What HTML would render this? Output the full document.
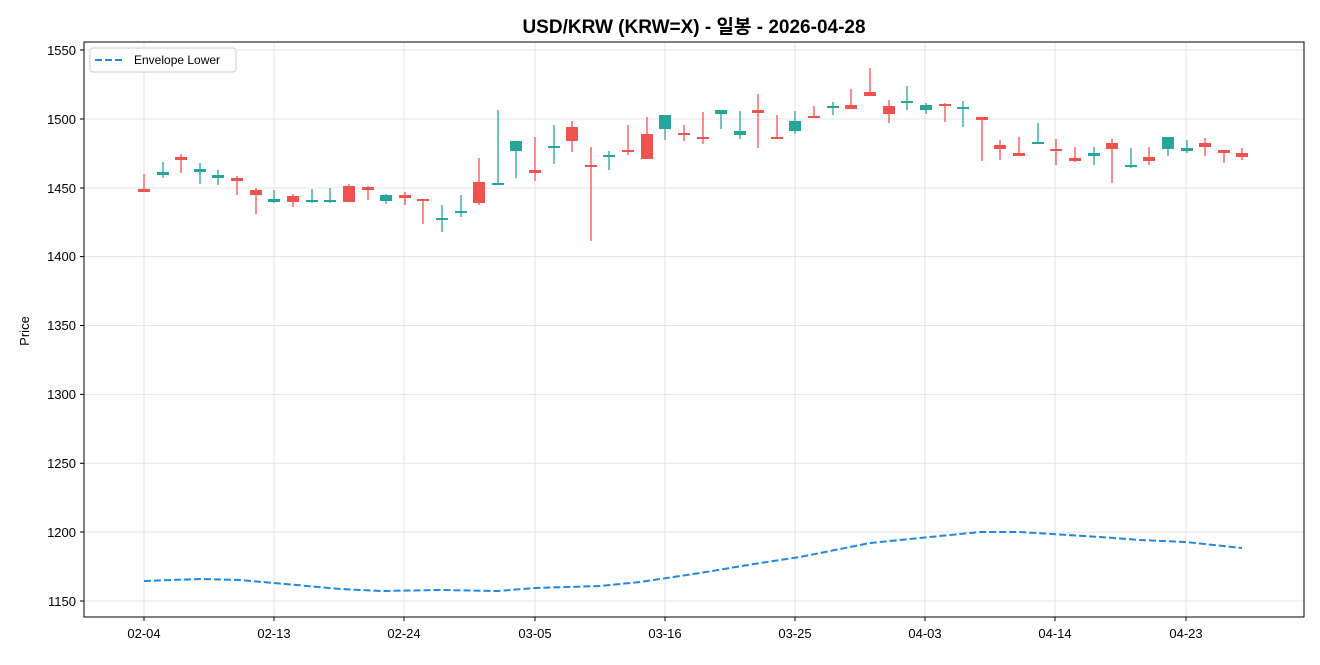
<!DOCTYPE html>
<html><head><meta charset="utf-8"><style>
html,body{margin:0;padding:0;background:#fff;}
svg text{font-family:"Liberation Sans","Noto Sans CJK KR",sans-serif;}
</style></head><body>
<svg width="1320" height="660" xmlns="http://www.w3.org/2000/svg">
<rect width="1320" height="660" fill="#fff"/>
<text x="694" y="33" text-anchor="middle" font-size="19" font-weight="bold" fill="#000">USD/KRW (KRW=X) - 일봉 - 2026-04-28</text>
<g stroke="#e5e5e5" stroke-width="1">
<line x1="144" y1="42" x2="144" y2="617"/><line x1="274" y1="42" x2="274" y2="617"/><line x1="404" y1="42" x2="404" y2="617"/><line x1="535" y1="42" x2="535" y2="617"/><line x1="665" y1="42" x2="665" y2="617"/><line x1="795" y1="42" x2="795" y2="617"/><line x1="925" y1="42" x2="925" y2="617"/><line x1="1055" y1="42" x2="1055" y2="617"/><line x1="1186" y1="42" x2="1186" y2="617"/>
<line x1="84" y1="50" x2="1304" y2="50"/><line x1="84" y1="119" x2="1304" y2="119"/><line x1="84" y1="188" x2="1304" y2="188"/><line x1="84" y1="256.6" x2="1304" y2="256.6"/><line x1="84" y1="325.5" x2="1304" y2="325.5"/><line x1="84" y1="394.4" x2="1304" y2="394.4"/><line x1="84" y1="463.3" x2="1304" y2="463.3"/><line x1="84" y1="532" x2="1304" y2="532"/><line x1="84" y1="601" x2="1304" y2="601"/>
</g>
<rect x="84" y="42" width="1220" height="575" fill="none" stroke="#000" stroke-width="1"/>
<g font-size="13" fill="#000" text-anchor="end">
<text x="76" y="55">1550</text><text x="76" y="124">1500</text><text x="76" y="193">1450</text><text x="76" y="261">1400</text><text x="76" y="330">1350</text><text x="76" y="399">1300</text><text x="76" y="468">1250</text><text x="76" y="537">1200</text><text x="76" y="606">1150</text>
</g>
<g stroke="#000"><line x1="80" y1="50" x2="84" y2="50"/><line x1="80" y1="119" x2="84" y2="119"/><line x1="80" y1="188" x2="84" y2="188"/><line x1="80" y1="256.6" x2="84" y2="256.6"/><line x1="80" y1="325.5" x2="84" y2="325.5"/><line x1="80" y1="394.4" x2="84" y2="394.4"/><line x1="80" y1="463.3" x2="84" y2="463.3"/><line x1="80" y1="532" x2="84" y2="532"/><line x1="80" y1="601" x2="84" y2="601"/>
<line x1="144" y1="617" x2="144" y2="621"/><line x1="274" y1="617" x2="274" y2="621"/><line x1="404" y1="617" x2="404" y2="621"/><line x1="535" y1="617" x2="535" y2="621"/><line x1="665" y1="617" x2="665" y2="621"/><line x1="795" y1="617" x2="795" y2="621"/><line x1="925" y1="617" x2="925" y2="621"/><line x1="1055" y1="617" x2="1055" y2="621"/><line x1="1186" y1="617" x2="1186" y2="621"/></g>
<g font-size="13" fill="#000" text-anchor="middle">
<text x="144" y="638">02-04</text><text x="274" y="638">02-13</text><text x="404" y="638">02-24</text><text x="535" y="638">03-05</text><text x="665" y="638">03-16</text><text x="795" y="638">03-25</text><text x="925" y="638">04-03</text><text x="1055" y="638">04-14</text><text x="1186" y="638">04-23</text>
</g>
<text x="29" y="331" font-size="13" text-anchor="middle" transform="rotate(-90 29 331)">Price</text>
<polyline fill="none" stroke="#1e88e5" stroke-width="2" stroke-dasharray="7,3" points="144,581 200,579 240,580 274,583 340,589 380,591 440,590 498,591 535,588 600,586 640,582 700,573 760,563 800,557 870,543 930,537 980,532 1020,532 1100,537 1140,540 1186,542 1242,548"/>
<path stroke="#ef5350" stroke-width="1.3" fill="none" d="M144 174V192M181 154V173M237 176V195M256 188V214M293 194V207M349 184V202M368 186V200M405 192V205M423 199V224M479 158V205M535 137V181M572 121V152M591 147V241M628 125V155M647 117V159M684 125V141M703 112V144M758 94V148M777 115V139M814 106V118M851 89V109M870 68V96M889 100V123M945 103V122M982 117V161M1000 140V160M1019 137V156M1056 139V165M1075 147V162M1112 139V183M1149 147V165M1205 138V156M1224 150V163M1242 148V160"/>
<path fill="#ef5350" d="M138 189h12v3h-12zM175 157h12v3h-12zM231 178h12v3h-12zM250 190h12v5h-12zM287 196h12v6h-12zM343 186h12v16h-12zM362 187h12v3h-12zM399 195h12v3h-12zM417 199h12v2h-12zM473 182h12v21h-12zM529 170h12v3h-12zM566 127h12v14h-12zM585 165h12v2h-12zM622 150h12v2h-12zM641 134h12v25h-12zM678 133h12v2h-12zM697 137h12v2h-12zM752 110h12v3h-12zM771 137h12v2h-12zM808 116h12v2h-12zM845 105h12v4h-12zM864 92h12v4h-12zM883 106h12v8h-12zM939 104h12v2h-12zM976 117h12v3h-12zM994 145h12v4h-12zM1013 153h12v3h-12zM1050 149h12v2h-12zM1069 158h12v3h-12zM1106 143h12v6h-12zM1143 157h12v4h-12zM1199 143h12v4h-12zM1218 150h12v3h-12zM1236 153h12v4h-12z"/>
<path stroke="#26a69a" stroke-width="1.3" fill="none" d="M163 162V178M200 163V184M218 170V185M274 190V203M312 189V203M330 188V203M386 194V204M442 205V232M461 195V217M498 110V184M516 141V178M554 125V164M609 151V170M665 115V140M721 110V129M740 111V139M795 111V134M833 102V115M907 86V110M926 103V114M963 101V127M1038 123V144M1094 147V165M1131 148V168M1168 137V156M1187 140V153"/>
<path fill="#26a69a" d="M157 172h12v3h-12zM194 169h12v3h-12zM212 175h12v3h-12zM268 199h12v3h-12zM306 200h12v2h-12zM324 200h12v2h-12zM380 195h12v6h-12zM436 218h12v2h-12zM455 211h12v2h-12zM492 183h12v2h-12zM510 141h12v10h-12zM548 146h12v2h-12zM603 155h12v2h-12zM659 115h12v14h-12zM715 110h12v4h-12zM734 131h12v4h-12zM789 121h12v10h-12zM827 106h12v2h-12zM901 101h12v2h-12zM920 105h12v5h-12zM957 107h12v2h-12zM1032 142h12v2h-12zM1088 153h12v3h-12zM1125 165h12v2h-12zM1162 137h12v12h-12zM1181 148h12v3h-12z"/>
<rect x="90" y="48" width="146" height="24" rx="3" fill="#fff" stroke="#ccc"/>
<line x1="95" y1="60" x2="123" y2="60" stroke="#1e88e5" stroke-width="2" stroke-dasharray="7,3"/>
<text x="134" y="64" font-size="12" fill="#000">Envelope Lower</text>
</svg>
</body></html>
